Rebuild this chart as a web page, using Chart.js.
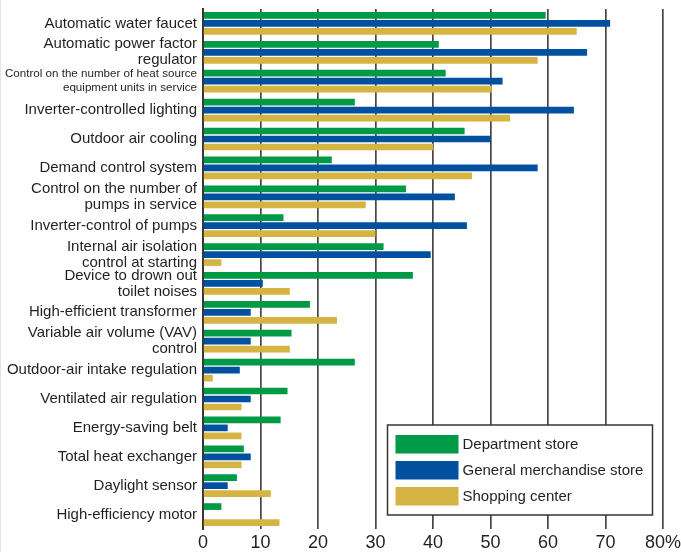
<!DOCTYPE html>
<html><head><meta charset="utf-8">
<script src="https://cdn.jsdelivr.net/npm/chart.js@4/dist/chart.umd.min.js"></script>
<style>html,body{margin:0;padding:0;background:#fff;overflow:hidden}#wrap{width:681px;height:552px;position:relative}</style>
</head><body><div id="wrap"><canvas id="c" width="681" height="552"></canvas></div>
<script>
const categories = [
  "Automatic water faucet",
  ["Automatic power factor", "regulator"],
  ["Control on the number of heat source", "equipment units in service"],
  "Inverter-controlled lighting",
  "Outdoor air cooling",
  "Demand control system",
  ["Control on the number of", "pumps in service"],
  "Inverter-control of pumps",
  ["Internal air isolation", "control at starting"],
  ["Device to drown out", "toilet noises"],
  "High-efficient transformer",
  ["Variable air volume (VAV)", "control"],
  "Outdoor-air intake regulation",
  "Ventilated air regulation",
  "Energy-saving belt",
  "Total heat exchanger",
  "Daylight sensor",
  "High-efficiency motor"
];
const seriesNames = ["Department store", "General merchandise store", "Shopping center"];
const departmentStore    = [59.6, 41.0, 42.2, 26.4, 45.5, 22.4, 35.3, 14.0, 31.4, 36.5, 18.6, 15.4, 26.4, 14.7, 13.5, 7.1, 5.9, 3.2];
const generalMerchandise = [70.8, 66.8, 52.1, 64.5, 50.1, 58.2, 43.8, 45.9, 39.6, 10.4, 8.3, 8.3, 6.4, 8.3, 4.3, 8.3, 4.3, 0];
const shoppingCenter     = [65.0, 58.2, 50.2, 53.4, 40.0, 46.8, 28.3, 30.0, 3.2, 15.1, 23.3, 15.1, 1.7, 6.7, 6.7, 6.7, 11.8, 13.3];
const xTickValues = [0, 10, 20, 30, 40, 50, 60, 70, 80];

const colors = ["#009a46", "#0050a0", "#d6b444"];
const textColor = "#231f20";
const baseFamily = '"Liberation Sans", Arial, Helvetica, sans-serif';

function hasFont(name) {
  const c = document.createElement('canvas').getContext('2d');
  const s = 'Control on the number of heat source';
  c.font = '40px monospace';
  const a = c.measureText(s).width;
  c.font = '40px "' + name + '", monospace';
  return c.measureText(s).width !== a;
}
const narrow = hasFont('Liberation Sans Narrow');
const smallFont = narrow
  ? { family: '"Liberation Sans Narrow", ' + baseFamily, size: 14, lineHeight: 1.0 }
  : { family: baseFamily, size: 11.6, lineHeight: 1.2 };
const labelFont = { family: baseFamily, size: 15, lineHeight: 1.07 };

const edgePlugin = {
  id: 'edge',
  beforeDraw(chart) {
    const ctx = chart.ctx;
    ctx.save();
    ctx.fillStyle = '#dfe3ee';
    ctx.fillRect(0, 0, 1, chart.height);
    ctx.restore();
  }
};

const legendPlugin = {
  id: 'boxLegend',
  afterDraw(chart) {
    const ctx = chart.ctx;
    const a = chart.chartArea;
    const w = 265, h = 90;
    const x = a.right - 10.5 - w, y = a.bottom - 14 - h;
    ctx.save();
    ctx.fillStyle = '#ffffff';
    ctx.fillRect(x, y, w, h);
    ctx.strokeStyle = '#3a3533';
    ctx.lineWidth = 1.5;
    ctx.strokeRect(x, y, w, h);
    ctx.font = '15px ' + baseFamily;
    ctx.textBaseline = 'middle';
    ctx.textAlign = 'left';
    chart.data.datasets.forEach((ds, i) => {
      const sy = y + 10 + i * 26;
      ctx.fillStyle = ds.backgroundColor;
      ctx.fillRect(x + 8, sy, 63, 18.5);
      ctx.fillStyle = textColor;
      ctx.fillText(ds.label, x + 75, sy + 9.5);
    });
    ctx.restore();
  }
};

new Chart(document.getElementById('c'), {
  type: 'bar',
  data: {
    labels: categories,
    datasets: [
      { label: seriesNames[0], data: departmentStore, backgroundColor: colors[0] },
      { label: seriesNames[1], data: generalMerchandise, backgroundColor: colors[1] },
      { label: seriesNames[2], data: shoppingCenter, backgroundColor: colors[2] }
    ]
  },
  options: {
    indexAxis: 'y',
    responsive: false,
    animation: false,
    devicePixelRatio: 1,
    layout: { padding: { top: 9, right: 18, bottom: 0, left: 0 } },
    datasets: { bar: { categoryPercentage: 0.83, barPercentage: 0.84, borderWidth: 0 } },
    plugins: { legend: { display: false }, tooltip: { enabled: false } },
    scales: {
      x: {
        type: 'linear',
        min: 0, max: 80,
        afterBuildTicks(scale) { scale.ticks = xTickValues.map(v => ({ value: v })); },
        afterFit(scale) { scale.height = 23; scale.paddingRight = 0; scale.paddingLeft = 0; },
        ticks: {
          callback: v => v === 80 ? '80%' : String(v),
          color: textColor,
          font: { family: baseFamily, size: 18, lineHeight: 1 },
          padding: 5,
          maxRotation: 0
        },
        grid: { color: '#4a4542', lineWidth: 1.7, drawTicks: false },
        border: { display: false }
      },
      y: {
        type: 'category',
        afterFit(scale) { scale.width = 203; scale.paddingTop = 0; scale.paddingBottom = 0; },
        ticks: {
          color: textColor,
          font: ctx => ctx.index === 2 ? smallFont : labelFont,
          padding: 6,
          autoSkip: false
        },
        grid: { display: false, drawTicks: false },
        border: { display: true, color: '#3a3533', width: 2 }
      }
    }
  },
  plugins: [edgePlugin, legendPlugin]
});
</script>
</body></html>
